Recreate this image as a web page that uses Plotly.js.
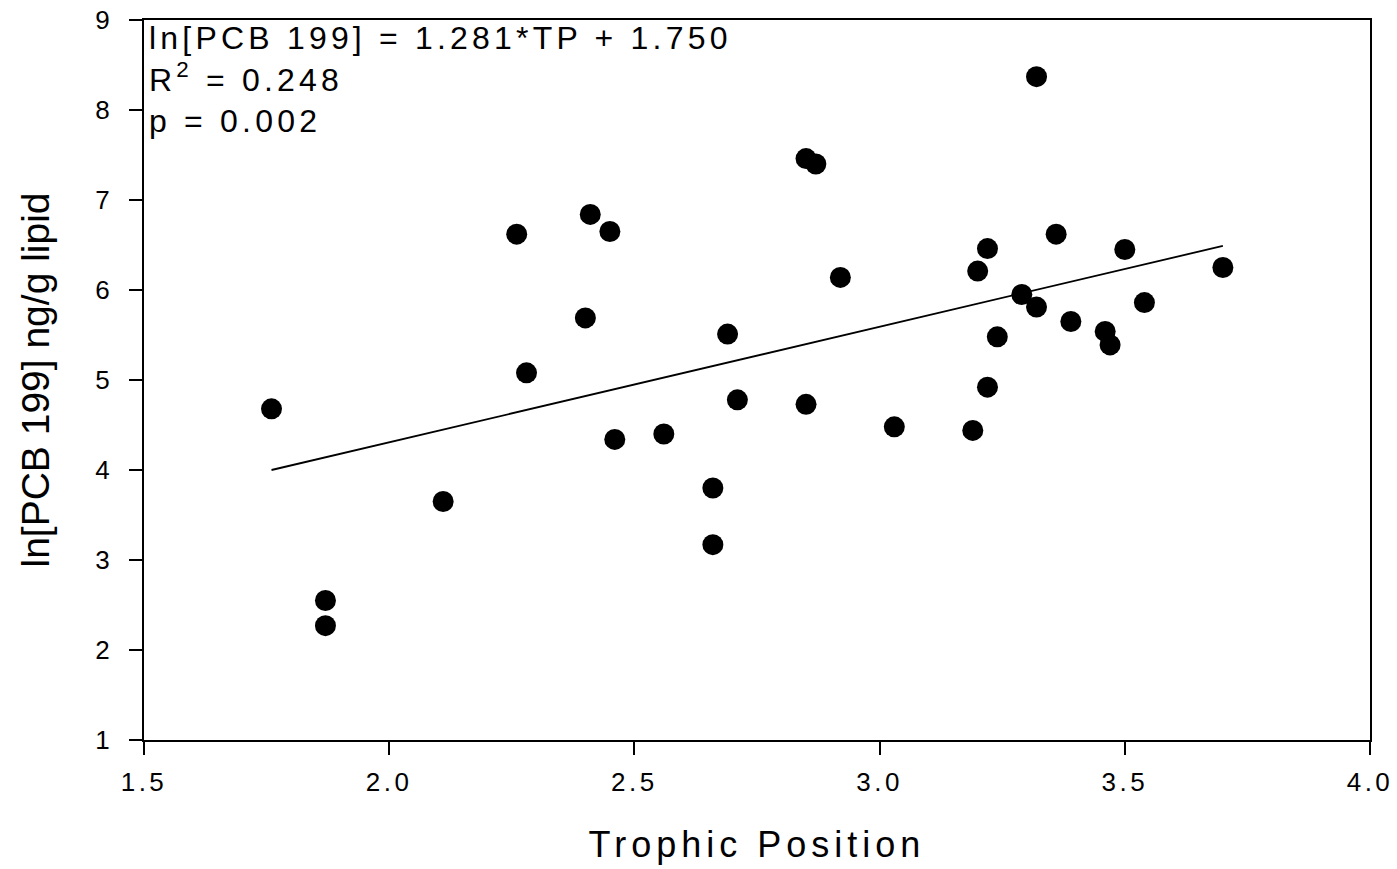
<!DOCTYPE html>
<html>
<head>
<meta charset="utf-8">
<script src="https://cdn.plot.ly/plotly-3.0.1.min.js"></script>
<style>
  html, body { margin: 0; padding: 0; background: #ffffff; }
  #chart { width: 1397px; height: 869px; }
  .xtick text { letter-spacing: 3.5px; }
  .g-xtitle text { letter-spacing: 5px; }
  .annotation-text { letter-spacing: 4.2px; }
</style>
</head>
<body>
<div id="chart"></div>
<script>
// Trophic position (x) and ln[PCB 199] ng/g lipid (y)
const trophicPosition = [
  1.76, 1.87, 1.87, 2.11, 2.26, 2.28, 2.40, 2.41, 2.45, 2.46,
  2.56, 2.66, 2.66, 2.69, 2.71, 2.85, 2.87, 2.85, 2.92, 3.03,
  3.19, 3.20, 3.22, 3.22, 3.24, 3.29, 3.32, 3.32, 3.36, 3.39,
  3.46, 3.47, 3.50, 3.54, 3.70
];
const lnPCB199 = [
  4.68, 2.55, 2.27, 3.65, 6.62, 5.08, 5.69, 6.84, 6.65, 4.34,
  4.40, 3.80, 3.17, 5.51, 4.78, 7.46, 7.40, 4.73, 6.14, 4.48,
  4.44, 6.21, 6.46, 4.92, 5.48, 5.95, 5.81, 8.37, 6.62, 5.65,
  5.54, 5.39, 6.45, 5.86, 6.25
];

// Regression line end points (ln[PCB 199] = 1.281*TP + 1.750)
const fitX = [1.76, 3.70];
const fitY = [4.00, 6.49];

// Axis ticks
const xTickVals = [1.5, 2.0, 2.5, 3.0, 3.5, 4.0];
const xTickText = ['1.5', '2.0', '2.5', '3.0', '3.5', '4.0'];
const yTickVals = [1, 2, 3, 4, 5, 6, 7, 8, 9];
const yTickText = ['1', '2', '3', '4', '5', '6', '7', '8', '9'];

// Regression statistics text
const statLines = [
  'ln[PCB 199] = 1.281*TP + 1.750',
  'R<sup>2</sup> = 0.248',
  'p = 0.002'
];

const FONT = 'Liberation Sans, Arial, Helvetica, sans-serif';

const traces = [
  {
    x: fitX,
    y: fitY,
    type: 'scatter',
    mode: 'lines',
    line: { color: '#000000', width: 1.8 },
    hoverinfo: 'skip',
    showlegend: false
  },
  {
    x: trophicPosition,
    y: lnPCB199,
    type: 'scatter',
    mode: 'markers',
    marker: { color: '#000000', size: 21, line: { width: 0 } },
    showlegend: false
  }
];

const layout = {
  width: 1397,
  height: 869,
  margin: { l: 144, r: 27, t: 20, b: 129 },
  paper_bgcolor: '#ffffff',
  plot_bgcolor: '#ffffff',
  font: { family: FONT, color: '#000000' },
  showlegend: false,
  xaxis: {
    range: [1.5, 4.0],
    tickmode: 'array',
    tickvals: xTickVals,
    ticktext: xTickText,
    ticks: 'outside',
    ticklen: 13,
    tickwidth: 2,
    tickcolor: '#000000',
    ticklabelstandoff: 5,
    showline: true,
    linecolor: '#000000',
    linewidth: 2,
    mirror: true,
    showgrid: false,
    zeroline: false,
    tickfont: { family: FONT, size: 26, color: '#000000' },
    title: {
      text: 'Trophic Position',
      font: { family: FONT, size: 36, color: '#000000' },
      standoff: 36
    }
  },
  yaxis: {
    range: [1, 9],
    tickmode: 'array',
    tickvals: yTickVals,
    ticktext: yTickText,
    ticks: 'outside',
    ticklen: 13,
    tickwidth: 2,
    tickcolor: '#000000',
    ticklabelstandoff: 14,
    showline: true,
    linecolor: '#000000',
    linewidth: 2,
    mirror: true,
    showgrid: false,
    zeroline: false,
    tickfont: { family: FONT, size: 26, color: '#000000' },
    title: {
      text: 'ln[PCB 199] ng/g lipid',
      font: { family: FONT, size: 39, color: '#000000' },
      standoff: 34
    }
  },
  annotations: [
    {
      xref: 'paper',
      yref: 'paper',
      x: 0,
      y: 1,
      xanchor: 'left',
      yanchor: 'top',
      xshift: 3,
      yshift: 2,
      align: 'left',
      showarrow: false,
      text: statLines.join('<br>'),
      font: { family: FONT, size: 32, color: '#000000' }
    }
  ]
};

Plotly.newPlot('chart', traces, layout, { displayModeBar: false, staticPlot: true });
</script>
</body>
</html>
